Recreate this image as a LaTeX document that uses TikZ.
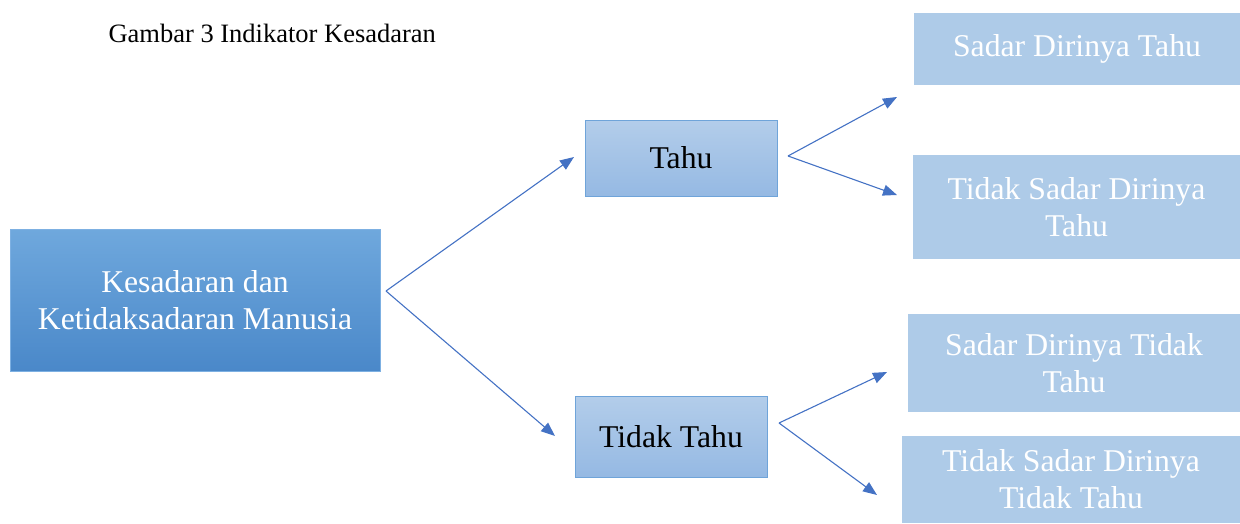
\documentclass[tikz,border=0pt]{standalone}
\usepackage{fontspec}
\setmainfont{Liberation Serif}
\usetikzlibrary{arrows.meta}
\definecolor{arrowblue}{HTML}{4472C4}
\definecolor{maintop}{HTML}{6FA8DD}
\definecolor{mainbot}{HTML}{4A88C9}
\definecolor{mainborder}{HTML}{7DB0E2}
\definecolor{midtop}{HTML}{B3CDEA}
\definecolor{midbot}{HTML}{95B9E3}
\definecolor{midborder}{HTML}{6FA4D9}
\definecolor{leaffill}{HTML}{AECBE8}
\tikzset{
  boxtext/.style={font=\fontsize{31.7}{37}\selectfont, align=center},
  mainbox/.style={boxtext, rectangle, draw=mainborder, line width=1pt, top color=maintop, bottom color=mainbot, text=white, inner sep=0pt},
  midbox/.style={boxtext, rectangle, draw=midborder, line width=1pt, top color=midtop, bottom color=midbot, text=black, inner sep=0pt},
  leafbox/.style={boxtext, rectangle, fill=leaffill, text=white, inner sep=0pt},
  conn/.style={draw=arrowblue, line width=1.1pt, -{Triangle[length=14pt,width=11pt]}}
}
\begin{document}
\begin{tikzpicture}[x=1pt,y=-1pt]
\useasboundingbox (0,0) rectangle (1240,523);
\node[anchor=base west, font=\fontsize{26.5}{31}\selectfont] (title) at (105,42) {Gambar 3 Indikator Kesadaran};
\node[mainbox, minimum width=370pt, minimum height=142pt] (main) at (195,300) {Kesadaran dan\\Ketidaksadaran Manusia};
\node[midbox, minimum width=192pt, minimum height=76pt] (tahu) at (681,158) {\raisebox{-3pt}{Tahu}};
\node[midbox, minimum width=192pt, minimum height=81pt] (tidaktahu) at (671,436.5) {\raisebox{-2pt}{Tidak Tahu}};
\node[leafbox, minimum width=326pt, minimum height=72pt] (sdt) at (1077,49) {\raisebox{-3pt}{Sadar Dirinya Tahu}};
\node[leafbox, minimum width=327pt, minimum height=104pt] (tsdt) at (1076.5,207) {Tidak Sadar Dirinya\\Tahu};
\node[leafbox, minimum width=332pt, minimum height=98pt] (sdtt) at (1074,363) {Sadar Dirinya Tidak\\Tahu};
\node[leafbox, minimum width=338pt, minimum height=87pt] (tsdtt) at (1071,479.5) {Tidak Sadar Dirinya\\Tidak Tahu};
\coordinate (v0) at (386,291);
\coordinate (e0a) at (574,157);
\coordinate (e0b) at (555,436);
\coordinate (v1) at (788,156);
\coordinate (e1a) at (897,97);
\coordinate (e1b) at (897,195);
\coordinate (v2) at (779,423);
\coordinate (e2a) at (887,372);
\coordinate (e2b) at (877,495);
\draw[conn] (v0) -- (e0a);
\draw[conn] (v0) -- (e0b);
\draw[conn] (v1) -- (e1a);
\draw[conn] (v1) -- (e1b);
\draw[conn] (v2) -- (e2a);
\draw[conn] (v2) -- (e2b);
\end{tikzpicture}
\end{document}
